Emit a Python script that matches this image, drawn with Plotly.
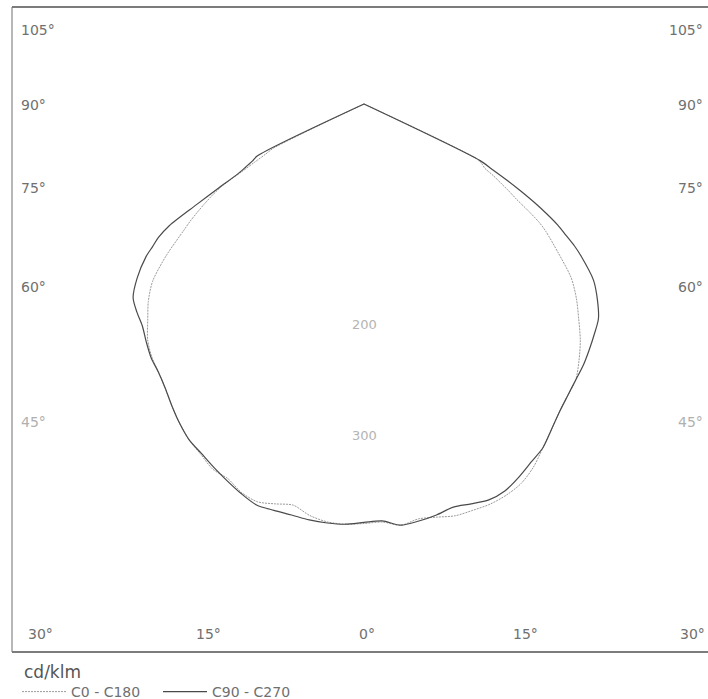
import numpy as np
import plotly.graph_objects as go

# Luminous intensity distribution, cd/klm, gamma = angle from nadir (deg)
gamma = [0, 2.5, 5, 7.5, 10, 12.5, 15, 17.5, 20, 22.5, 25, 27.5, 30, 32.5, 35,
         37.5, 40, 42.5, 45, 47.5, 50, 52.5, 55, 56, 57, 58, 59, 60, 61, 62, 63,
         64, 65, 70, 80, 90]

c0 = [380, 379, 383, 379, 380, 382, 381, 380, 377, 372, 363, 351, 340, 330, 322,
      315, 303, 290, 275, 261, 245, 222, 201, 191, 177, 163, 153, 143, 134, 124, 120,
      115, 0, 0, 0, 0]
c180 = [380, 381, 380, 376, 369, 371, 373, 369, 361, 358, 350, 343, 334, 324, 314,
        306, 299, 290, 277, 265, 250, 226, 199, 190, 180, 170, 160, 148, 127, 112, 100,
        91, 0, 0, 0, 0]
c90 = [379, 378, 383, 381, 378, 374, 375, 376, 373, 366, 358, 351, 340, 330, 322,
       315, 309, 302, 295, 288, 276, 262, 240, 230, 218, 207, 193, 178, 162, 146, 130,
       117, 0, 0, 0, 0]
c270 = [379, 381, 381, 380, 378, 377, 376, 370, 363, 356, 349, 343, 334, 324, 314,
        306, 300, 292, 284, 279, 273, 259, 241, 231, 222, 208, 177, 152, 131, 121, 113,
        108, 0, 0, 0, 0]

series_names = ["C0 - C180", "C90 - C270"]
ring_values = [200, 300]
side_labels = ["105°", "90°", "75°", "60°", "45°"]
bottom_labels = ["30°", "15°", "0°", "15°", "30°"]
unit_label = "cd/klm"

# ---- page geometry (pixels) ----
W, H = 708, 699
ML, MR, MT, MB = 12, 0, 7, 47
PW, PH = W - ML - MR, H - MT - MB
CX, CY = 364, 104          # pole of the diagram
SCALE = 1.104              # px per cd/klm

x_range = [-(CX - ML) / SCALE, (W - MR - CX) / SCALE]
y_range = [-(MT + PH - CY) / SCALE, (CY - MT) / SCALE]


def px_x(px):
    return (px - ML) / PW


def px_y(py):
    return 1 - (py - MT) / PH


def half_plane_pair(right, left):
    g = np.radians(np.asarray(gamma, dtype=float))
    r_r = np.asarray(right, dtype=float)
    r_l = np.asarray(left, dtype=float)
    xl = -(r_l * np.sin(g))[::-1]
    yl = -(r_l * np.cos(g))[::-1]
    xr = r_r * np.sin(g)
    yr = -r_r * np.cos(g)
    return np.concatenate([xl, xr[1:]]), np.concatenate([yl, yr[1:]])


fig = go.Figure()

x0, y0 = half_plane_pair(c0, c180)
fig.add_trace(go.Scatter(x=x0, y=y0, mode="lines", name=series_names[0],
                         line=dict(color="#9a9a9a", width=1, dash="2px,1px",
                                   shape="spline", smoothing=0.8)))
x1, y1 = half_plane_pair(c90, c270)
fig.add_trace(go.Scatter(x=x1, y=y1, mode="lines", name=series_names[1],
                         line=dict(color="#4a4a4a", width=1.2,
                                   shape="spline", smoothing=0.8)))

annotations = []
label_font = dict(family="DejaVu Sans", size=14, color="#707070")
faded_font = dict(family="DejaVu Sans", size=14, color="#b0b0b0")

# intensity ring labels along the nadir axis
for v in ring_values:
    annotations.append(dict(x=0, y=-v, xref="x", yref="y", text=str(v),
                            showarrow=False, xanchor="center", yanchor="middle",
                            font=dict(family="DejaVu Sans", size=13, color="#b4b4b4")))

# angle labels on the left / right frame edges
side_y = [30, 105, 188, 287, 422]
for txt, py in zip(side_labels, side_y):
    f = faded_font if txt == "45°" else label_font
    annotations.append(dict(x=px_x(19), y=px_y(py), xref="paper", yref="paper",
                            text=txt, showarrow=False, xanchor="left",
                            yanchor="middle", font=f))
    annotations.append(dict(x=px_x(705), y=px_y(py), xref="paper", yref="paper",
                            text=txt, showarrow=False, xanchor="right",
                            yanchor="middle", font=f))

# angle labels along the bottom edge
bottom_x = [40, 208, 367, 525, 692]
for txt, px in zip(bottom_labels, bottom_x):
    annotations.append(dict(x=px_x(px), y=px_y(634), xref="paper", yref="paper",
                            text=txt, showarrow=False, xanchor="center",
                            yanchor="middle", font=label_font))

# unit caption above the legend
annotations.append(dict(x=px_x(22), y=px_y(672), xref="paper", yref="paper",
                        text=unit_label, showarrow=False, xanchor="left",
                        yanchor="middle",
                        font=dict(family="DejaVu Sans", size=17, color="#555555")))

# open frame: top, left and bottom edges of the plotting area
frame_style = dict(color="#505050", width=1.3)
shapes = [
    dict(type="line", xref="paper", yref="paper", x0=0, x1=1, y0=1, y1=1, line=frame_style),
    dict(type="line", xref="paper", yref="paper", x0=0, x1=1, y0=0, y1=0, line=frame_style),
    dict(type="line", xref="paper", yref="paper", x0=0, x1=0, y0=0, y1=1,
         line=dict(color="#707070", width=1)),
]

axis_common = dict(showgrid=False, zeroline=False, showticklabels=False, ticks="",
                   showline=False, fixedrange=True)

fig.update_layout(
    width=W, height=H,
    margin=dict(l=ML, r=MR, t=MT, b=MB, pad=0, autoexpand=False),
    paper_bgcolor="white", plot_bgcolor="white",
    xaxis=dict(range=x_range, **axis_common),
    yaxis=dict(range=y_range, **axis_common),
    annotations=annotations,
    shapes=shapes,
    showlegend=True,
    legend=dict(
        orientation="h", x=px_x(17), y=px_y(676), xanchor="left", yanchor="top",
        font=dict(family="DejaVu Sans", size=14, color="#707070"),
        itemwidth=44, entrywidth=82, entrywidthmode="pixels",
        bgcolor="rgba(0,0,0,0)", borderwidth=0, tracegroupgap=0,
    ),
)

fig.write_html("out.html")
